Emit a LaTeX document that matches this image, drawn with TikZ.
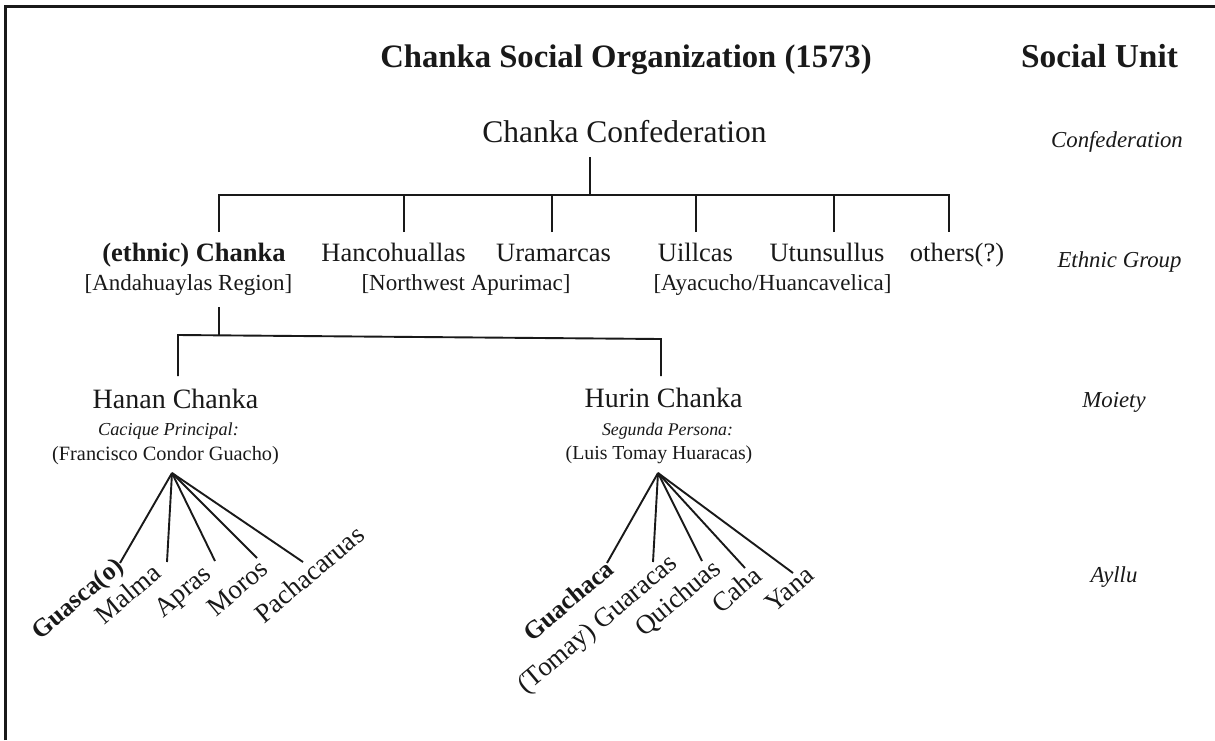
\documentclass[tikz,border=0pt]{standalone}
\usepackage{fontspec}
\setmainfont{Liberation Serif}
\newcommand{\fsz}[1]{\fontsize{#1}{#1}\selectfont}
\begin{document}
\begin{tikzpicture}[x=1pt,y=-1pt,
  every node/.style={inner sep=0pt, outer sep=0pt, text=black!90},
  conn/.style={line width=1.9pt, black!90},
  ttl/.style={anchor=base, font=\fsz{32.7}\bfseries},
  top/.style={anchor=base, font=\fsz{31.5}},
  grp/.style={anchor=base, font=\fsz{26.5}},
  sub/.style={anchor=base, font=\fsz{23}},
  moi/.style={anchor=base, font=\fsz{28}},
  role/.style={anchor=base, font=\fsz{18.3}\itshape},
  pers/.style={anchor=base, font=\fsz{20.3}},
  unit/.style={anchor=base, font=\fsz{22.8}\itshape},
  ayl/.style={anchor=base west, rotate=40, font=\fsz{27}},
]
\useasboundingbox (0,0) rectangle (1215,740);
\fill[white] (0,0) rectangle (1215,740);
\draw[line width=3pt, black!90] (5,740) -- (5,6) -- (1215,6);

% titles
\node[ttl] (title) at (626,67) {Chanka Social Organization (1573)};
\node[ttl, font=\fsz{33.4}\bfseries] (socunit) at (1099.5,67) {Social Unit};

% top level
\node[top] (conf) at (624.5,142) {Chanka Confederation};
\node[unit] (uconf) at (1117,147) {Confederation};

% ethnic groups
\node[grp, font=\fsz{26.5}\bfseries] (ethnic) at (194,261) {(ethnic) Chanka};
\node[grp] (hanco) at (393.5,261) {Hancohuallas};
\node[grp] (uram) at (553.5,261) {Uramarcas};
\node[grp] (uill) at (695.5,261) {Uillcas};
\node[grp] (utun) at (827,261) {Utunsullus};
\node[grp] (others) at (957,261) {others(?)};
\node[sub] (anda) at (188.5,290) {[Andahuaylas Region]};
\node[sub] (nwap) at (466,290) {[Northwest Apurimac]};
\node[sub] (ayac) at (772.5,290) {[Ayacucho/Huancavelica]};
\node[unit] (uethnic) at (1119.5,267) {Ethnic Group};

% moieties
\node[moi] (hanan) at (175.5,408) {Hanan Chanka};
\node[role] (cacique) at (168.5,435) {Cacique Principal:};
\node[pers] (francisco) at (165.5,460) {(Francisco Condor Guacho)};
\node[moi] (hurin) at (663.5,407) {Hurin Chanka};
\node[role, font=\fsz{17.8}\itshape] (segunda) at (667.5,435) {Segunda Persona:};
\node[pers, font=\fsz{19.8}] (luis) at (659,459) {(Luis Tomay Huaracas)};
\node[unit] (umoiety) at (1114,407) {Moiety};

% ayllus
\node[ayl, font=\fsz{25.5}\bfseries] (guasca) at (40,640) {Guasca(o)};
\node[ayl] (malma) at (104,625) {Malma};
\node[ayl] (apras) at (163,618) {Apras};
\node[ayl] (moros) at (216,617) {Moros};
\node[ayl] (pacha) at (264,624) {Pachacaruas};
\node[ayl, font=\fsz{25.5}\bfseries] (guachaca) at (532,642) {Guachaca};
\node[ayl] (guaracas) at (526,694) {(Tomay) Guaracas};
\node[ayl] (quichuas) at (644,637) {Quichuas};
\node[ayl] (caha) at (721,614) {Caha};
\node[ayl] (yana) at (774,613) {Yana};
\node[unit] (uayllu) at (1114,582) {Ayllu};

% confederation tree
\coordinate (cstem) at (590,157);
\coordinate (cbus) at (590,195);
\coordinate (b1) at (219,195);
\coordinate (b6) at (949,195);
\coordinate (ethnictop) at (219,232);
\coordinate (hancotop) at (404,232);
\coordinate (uramtop) at (552,232);
\coordinate (uilltop) at (696,232);
\coordinate (utuntop) at (834,232);
\coordinate (otherstop) at (949,232);
\draw[conn] (cstem) -- (cbus);
\draw[conn] (ethnictop) -- (b1) -- (b6) -- (otherstop);
\foreach \t in {hancotop,uramtop,uilltop,utuntop}
  \draw[conn] (\t) -- (\t |- cbus);

% moiety tree
\coordinate (astem) at (219,307);
\coordinate (abus) at (219,335.5);
\coordinate (m1) at (178,335);
\coordinate (m2) at (661,339);
\coordinate (hanantop) at (178,376);
\coordinate (hurintop) at (661,376);
\draw[conn] (astem) -- (abus);
\draw[conn] (hanantop) -- (m1) -- (m2) -- (hurintop);

% ayllu fans
\coordinate (apexA) at (172,473);
\coordinate (apexB) at (658,473);
\coordinate (eGuasca) at (120,563);
\coordinate (eMalma) at (167,562);
\coordinate (eApras) at (215,561);
\coordinate (eMoros) at (257,558);
\coordinate (ePacha) at (303,562);
\coordinate (eGuachaca) at (607,563);
\coordinate (eGuaracas) at (653,562);
\coordinate (eQuichuas) at (702,561);
\coordinate (eCaha) at (745,568);
\coordinate (eYana) at (793,573);
\foreach \e in {eGuasca,eMalma,eApras,eMoros,ePacha}
  \draw[conn] (apexA) -- (\e);
\foreach \e in {eGuachaca,eGuaracas,eQuichuas,eCaha,eYana}
  \draw[conn] (apexB) -- (\e);
\end{tikzpicture}
\end{document}
